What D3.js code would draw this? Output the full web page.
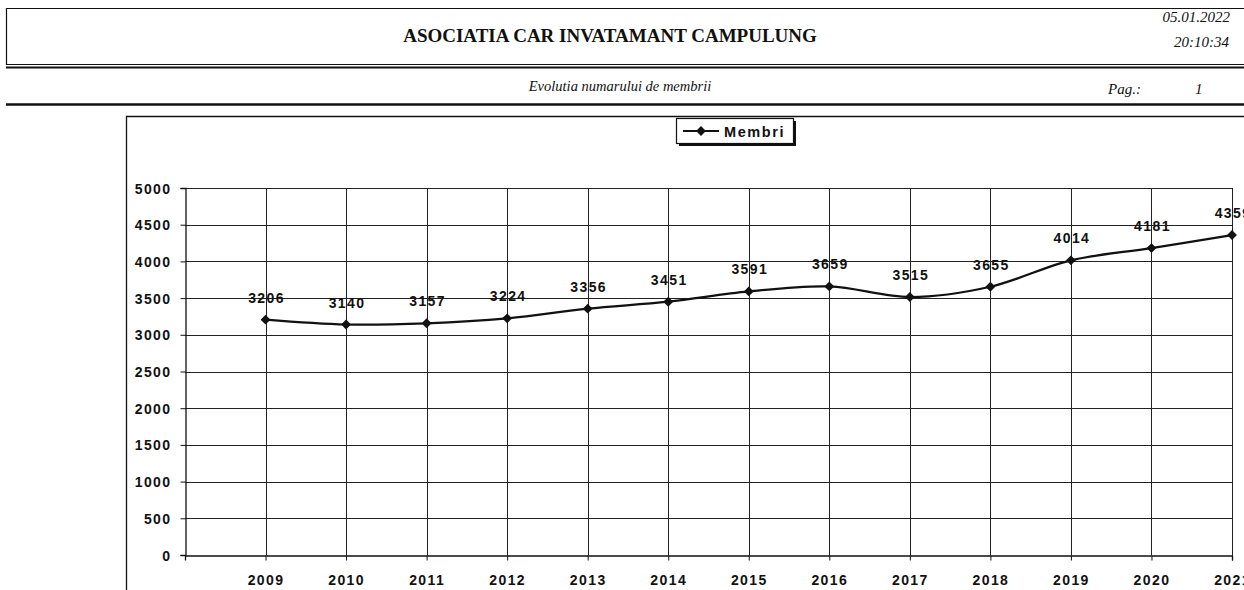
<!DOCTYPE html>
<html>
<head>
<meta charset="utf-8">
<script src="https://cdn.jsdelivr.net/npm/d3@7"></script>
<style>
body{margin:0;background:#fff;}
svg text{fill:#111;}
</style>
</head>
<body>
<svg id="chart" width="1244" height="590"></svg>
<script>
// datele graficului
var years = [2009, 2010, 2011, 2012, 2013, 2014, 2015, 2016, 2017, 2018, 2019, 2020, 2021];
var membri = [3206, 3140, 3157, 3224, 3356, 3451, 3591, 3659, 3515, 3655, 4014, 4181, 4359];
var yTicks = [0, 500, 1000, 1500, 2000, 2500, 3000, 3500, 4000, 4500, 5000];
var seriesName = "Membri";
var title = "ASOCIATIA CAR INVATAMANT CAMPULUNG";
var subtitle = "Evolutia numarului de membrii";
var printDate = "05.01.2022", printTime = "20:10:34", pageNo = "1";

var svg = d3.select("#chart");
var W = 1244, H = 590;
var ink = "#111";
var serif = "'Liberation Serif','Times New Roman',serif";
var sans = "'Liberation Sans',Arial,sans-serif";

// antet
var head = svg.append("g").attr("class", "header");
head.append("path").attr("d", "M1244,8.5H6.5V64.5H1244")
	.attr("fill", "none").attr("stroke", ink).attr("stroke-width", 1.2);
head.append("line").attr("x1", 6).attr("x2", W).attr("y1", 67.5).attr("y2", 67.5)
	.attr("stroke", ink).attr("stroke-width", 2.2);
head.append("line").attr("x1", 6).attr("x2", W).attr("y1", 104.5).attr("y2", 104.5)
	.attr("stroke", ink).attr("stroke-width", 2.4);
head.append("text").attr("x", 610).attr("y", 42).attr("text-anchor", "middle")
	.style("font", "bold 19px " + serif).text(title);
head.append("text").attr("x", 620).attr("y", 91).attr("text-anchor", "middle")
	.style("font", "italic 14.5px " + serif).text(subtitle);
head.append("text").attr("x", 1230).attr("y", 22).attr("text-anchor", "end")
	.style("font", "italic 15px " + serif).text(printDate);
head.append("text").attr("x", 1229).attr("y", 47).attr("text-anchor", "end")
	.style("font", "italic 15px " + serif).text(printTime);
head.append("text").attr("x", 1108).attr("y", 94)
	.style("font", "italic 15px " + serif).text("Pag.:");
head.append("text").attr("x", 1195).attr("y", 94)
	.style("font", "italic 15px " + serif).text(pageNo);

// chenarul graficului
svg.append("path").attr("d", "M126.5,590V116.5H1244")
	.attr("fill", "none").attr("stroke", ink).attr("stroke-width", 1.3);

var plot = {left: 185, right: 1232, top: 188, bottom: 555};
var x = d3.scaleLinear().domain([years[0] - 1, years[years.length - 1]]).range([plot.left, plot.right]);
var y = d3.scaleLinear().domain([0, 5000]).range([plot.bottom, plot.top]);

// grila
var grid = svg.append("g").attr("class", "grid").attr("stroke", "#222").attr("stroke-width", 1);
grid.selectAll("line.h").data(yTicks.slice(1)).enter().append("line").attr("class", "h")
	.attr("x1", plot.left).attr("x2", plot.right)
	.attr("y1", function(d){return Math.round(y(d)) + 0.5;})
	.attr("y2", function(d){return Math.round(y(d)) + 0.5;});
grid.selectAll("line.v").data(years).enter().append("line").attr("class", "v")
	.attr("y1", plot.top).attr("y2", plot.bottom)
	.attr("x1", function(d){return Math.round(x(d)) + 0.5;})
	.attr("x2", function(d){return Math.round(x(d)) + 0.5;});

// axe
var yAxis = svg.append("g").attr("transform", "translate(" + (plot.left + 0.5) + ",0)")
	.call(d3.axisLeft(y).tickValues(yTicks).tickSize(5).tickPadding(9).tickFormat(d3.format("d")));
var xAxis = svg.append("g").attr("transform", "translate(0," + (plot.bottom + 0.5) + ")")
	.call(d3.axisBottom(x).tickValues(years).tickSize(5).tickPadding(15).tickFormat(d3.format("d")));
[yAxis, xAxis].forEach(function(ax){
	ax.select(".domain").attr("stroke", ink).attr("stroke-width", 1.3);
	ax.selectAll(".tick line").attr("stroke", ink);
	ax.selectAll(".tick text").attr("fill", ink)
		.style("font", "bold 14px " + sans).style("letter-spacing", "1.4px");
});
yAxis.selectAll(".tick text").attr("dy", "0.36em");

// linia seriei
var pts = years.map(function(yr, i){return [x(yr), y(membri[i])];});
svg.append("path").datum(pts)
	.attr("fill", "none").attr("stroke", ink).attr("stroke-width", 2.2)
	.attr("d", d3.line().curve(d3.curveCatmullRom.alpha(0.5)));

var diamond = d3.symbol().type(d3.symbolDiamond2).size(62);
svg.selectAll("path.mk").data(pts).enter().append("path").attr("class", "mk")
	.attr("d", diamond).attr("fill", ink)
	.attr("transform", function(d){return "translate(" + d[0] + "," + d[1] + ")";});

svg.selectAll("text.lbl").data(membri).enter().append("text").attr("class", "lbl")
	.attr("x", function(d, i){return x(years[i]) + 1;})
	.attr("y", function(d){return y(d) - 17;})
	.attr("text-anchor", "middle")
	.style("font", "bold 14px " + sans).style("letter-spacing", "1.4px")
	.text(function(d){return d;});

// legenda
var lg = svg.append("g").attr("transform", "translate(676,118)");
lg.append("rect").attr("x", 3).attr("y", 3).attr("width", 117).attr("height", 25).attr("fill", ink);
lg.append("rect").attr("x", 0.5).attr("y", 0.5).attr("width", 117).attr("height", 25)
	.attr("fill", "#fff").attr("stroke", ink).attr("stroke-width", 1.2);
lg.append("line").attr("x1", 7).attr("x2", 43).attr("y1", 13).attr("y2", 13)
	.attr("stroke", ink).attr("stroke-width", 2.2);
lg.append("path").attr("d", diamond).attr("fill", ink)
	.attr("transform", "translate(25,13)");
lg.append("text").attr("x", 48).attr("y", 18.5)
	.style("font", "bold 14.5px " + sans).style("letter-spacing", "1.6px").text(seriesName);
</script>
</body>
</html>
